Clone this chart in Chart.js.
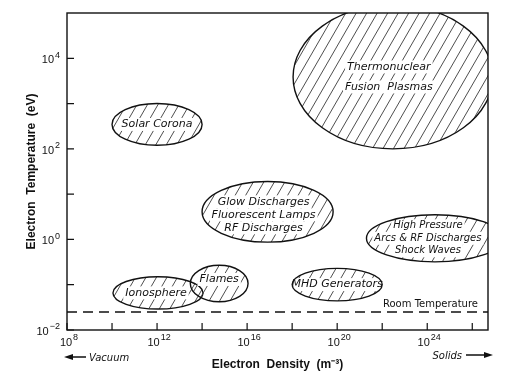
<!DOCTYPE html>
<html><head><meta charset="utf-8">
<script src="https://cdn.jsdelivr.net/npm/chart.js@4"></script>
<style>html,body{margin:0;padding:0;background:#fff}</style>
</head><body>
<canvas id="c" width="523" height="383"></canvas>
<script>
// ---- data ----
const regionNames = [['Solar Corona'], ['Thermonuclear', 'Fusion  Plasmas'], ['Glow Discharges', 'Fluorescent Lamps', 'RF Discharges'], ['High Pressure', 'Arcs & RF Discharges', 'Shock Waves'], ['MHD Generators'], ['Ionosphere'], ['Flames']];
const densityMin = [1e10, 1.1e18, 1e14, 2e21, 1e18, 1.1e10, 3e13];
const densityMax = [1e14, 8e26, 6.6e19, 2.4e27, 1e22, 1.1e14, 1.1e16];
const tempMin = [1.2e2, 1e2, 0.87, 0.32, 0.044, 0.029, 0.042];
const tempMax = [1e3, 1.5e5, 19, 3.5, 0.23, 0.15, 0.27];
const roomTemperature = 0.025;
const densityRange = [1e8, 5e26];
const tempRange = [1e-2, 1e5];
const xTickExp = [8, 10, 12, 14, 16, 18, 20, 22, 24, 26];
const xLabelExp = [8, 12, 16, 20, 24];
const yTickExp = [-2, -1, 0, 1, 2, 3, 4];
const yLabelExp = [-2, 0, 2, 4];

// ---- styling (not data) ----
const INK = '#111';
const labelStyle = [
  {size: 11, dx: 0, dy: 0, gap: 13},
  {size: 11, dx: -4, dy: 0, gap: 20},
  {size: 11, dx: -4, dy: 3, gap: 13},
  {size: 10, dx: -7, dy: 0, gap: 12.5},
  {size: 11, dx: 0, dy: 0, gap: 13},
  {size: 11, dx: -2, dy: 0, gap: 13},
  {size: 11, dx: 0, dy: -4, gap: 13}
];

function drawPow(ctx, exp, x, y, align) {
  const base = '10', sup = String(exp).replace('-', '\u2212');
  ctx.font = '11px "Liberation Sans"';
  const wb = ctx.measureText(base).width;
  ctx.font = '9px "Liberation Sans"';
  const ws = ctx.measureText(sup).width;
  const w = wb + ws + 1;
  let x0 = align === 'right' ? x - w : x - w / 2;
  ctx.fillStyle = INK;
  ctx.textAlign = 'left';
  ctx.textBaseline = 'middle';
  ctx.font = '11px "Liberation Sans"';
  ctx.fillText(base, x0, y + 2);
  ctx.font = '9px "Liberation Sans"';
  ctx.fillText(sup, x0 + wb + 1, y - 3);
}

const regionsPlugin = {
  id: 'regions',
  beforeDatasetsDraw(chart) {
    const {ctx, chartArea: ca, scales: {x, y}} = chart;
    ctx.save();
    ctx.beginPath();
    ctx.rect(ca.left, ca.top, ca.right - ca.left, ca.bottom - ca.top);
    ctx.clip();
    for (let i = 0; i < regionNames.length; i++) {
      const x1 = x.getPixelForValue(densityMin[i]), x2 = x.getPixelForValue(densityMax[i]);
      const y1 = y.getPixelForValue(tempMax[i]), y2 = y.getPixelForValue(tempMin[i]);
      const cx = (x1 + x2) / 2, cy = (y1 + y2) / 2, rx = (x2 - x1) / 2, ry = (y2 - y1) / 2;
      const st = labelStyle[i];
      const font = 'oblique ' + st.size + 'px "DejaVu Sans"';
      const tx = cx + st.dx, ty = cy + st.dy;
      // hatch
      ctx.save();
      ctx.beginPath();
      ctx.ellipse(cx, cy, rx, ry, 0, 0, Math.PI * 2);
      ctx.clip();
      const a = 60 * Math.PI / 180, dx = Math.cos(a), dy = -Math.sin(a);
      const L = rx + ry + 40, sp = 10.5;
      const n = Math.ceil((rx + ry) / sp) + 3;
      ctx.beginPath();
      for (let k = -n; k <= n; k++) {
        const px = cx + k * sp;
        ctx.moveTo(px - dx * L, cy - dy * L);
        ctx.lineTo(px + dx * L, cy + dy * L);
      }
      ctx.strokeStyle = '#3a3a3a';
      ctx.lineWidth = 0.9;
      ctx.stroke();
      // label backgrounds
      const lines = regionNames[i];
      ctx.font = font;
      for (let j = 0; j < lines.length; j++) {
        const ly = ty + (j - (lines.length - 1) / 2) * st.gap;
        const w = ctx.measureText(lines[j]).width;
        ctx.fillStyle = '#fff';
        ctx.fillRect(tx - w / 2 - 2, ly - 6.5, w + 4, 13);
      }
      ctx.restore();
      // outline
      ctx.beginPath();
      ctx.ellipse(cx, cy, rx, ry, 0, 0, Math.PI * 2);
      ctx.strokeStyle = INK;
      ctx.lineWidth = 1.4;
      ctx.stroke();
      // text
      ctx.font = font;
      ctx.fillStyle = INK;
      ctx.textAlign = 'center';
      ctx.textBaseline = 'middle';
      for (let j = 0; j < lines.length; j++) {
        const ly = ty + (j - (lines.length - 1) / 2) * st.gap;
        ctx.fillText(lines[j], tx, ly);
      }
    }
    ctx.restore();
  },
  afterDraw(chart) {
    const {ctx, chartArea: ca, scales: {x, y}} = chart;
    ctx.save();
    // frame
    ctx.strokeStyle = INK;
    ctx.lineWidth = 1.4;
    ctx.strokeRect(ca.left, ca.top, ca.right - ca.left, ca.bottom - ca.top);
    // inward ticks
    ctx.lineWidth = 1.2;
    ctx.beginPath();
    xTickExp.forEach(e => { const px = x.getPixelForValue(Math.pow(10, e)); ctx.moveTo(px, ca.bottom); ctx.lineTo(px, ca.bottom - 7); });
    yTickExp.forEach(e => { const py = y.getPixelForValue(Math.pow(10, e)); ctx.moveTo(ca.left, py); ctx.lineTo(ca.left + 7, py); });
    ctx.stroke();
    // tick labels
    xLabelExp.forEach(e => drawPow(ctx, e, x.getPixelForValue(Math.pow(10, e)) + 2, ca.bottom + 11, 'center'));
    yLabelExp.forEach(e => drawPow(ctx, e, ca.left - 7, y.getPixelForValue(Math.pow(10, e)), 'right'));
    // room temperature label
    ctx.font = '10px "DejaVu Sans"';
    ctx.fillStyle = INK;
    ctx.textAlign = 'left';
    ctx.textBaseline = 'alphabetic';
    ctx.fillText('Room Temperature', 383, y.getPixelForValue(roomTemperature) - 5);
    // vacuum / solids
    ctx.font = 'oblique 10px "DejaVu Sans"';
    ctx.fillText('Vacuum', 89, 361);
    ctx.textAlign = 'right';
    ctx.fillText('Solids', 462, 359);
    ctx.lineWidth = 1.3;
    ctx.beginPath();
    ctx.moveTo(70, 357); ctx.lineTo(86, 357);
    ctx.moveTo(466, 355); ctx.lineTo(486, 355);
    ctx.stroke();
    ctx.beginPath();
    ctx.moveTo(64, 357); ctx.lineTo(73, 354); ctx.lineTo(73, 360); ctx.closePath();
    ctx.moveTo(493, 355); ctx.lineTo(484, 352); ctx.lineTo(484, 358); ctx.closePath();
    ctx.fill();
    ctx.restore();
  }
};

new Chart(document.getElementById('c'), {
  type: 'scatter',
  data: {
    datasets: [{
      label: 'Room Temperature',
      data: [{x: densityRange[0], y: roomTemperature}, {x: densityRange[1], y: roomTemperature}],
      showLine: true,
      borderColor: INK,
      borderWidth: 1.3,
      borderDash: [10, 6],
      pointRadius: 0
    }]
  },
  options: {
    responsive: false,
    animation: false,
    devicePixelRatio: 1,
    layout: {padding: {left: 0, top: 13, right: 35, bottom: 0}},
    plugins: {legend: {display: false}, tooltip: {enabled: false}},
    scales: {
      x: {
        type: 'logarithmic', min: densityRange[0], max: densityRange[1],
        ticks: {display: false}, grid: {display: false}, border: {display: false},
        title: {display: true, text: 'Electron  Density  (m\u207B\u00B3)', color: INK, font: {family: 'Liberation Sans', size: 12, weight: 'bold'}, padding: {top: 0, bottom: 11}},
        afterFit(s) { s.height = 53; }
      },
      y: {
        type: 'logarithmic', min: tempRange[0], max: tempRange[1],
        ticks: {display: false}, grid: {display: false}, border: {display: false},
        title: {display: true, text: 'Electron  Temperature  (eV)', color: INK, font: {family: 'Liberation Sans', size: 12, weight: 'bold'}, padding: {top: 24, bottom: 0}},
        afterFit(s) { s.width = 67; }
      }
    }
  },
  plugins: [regionsPlugin]
});
</script>
</body></html>
